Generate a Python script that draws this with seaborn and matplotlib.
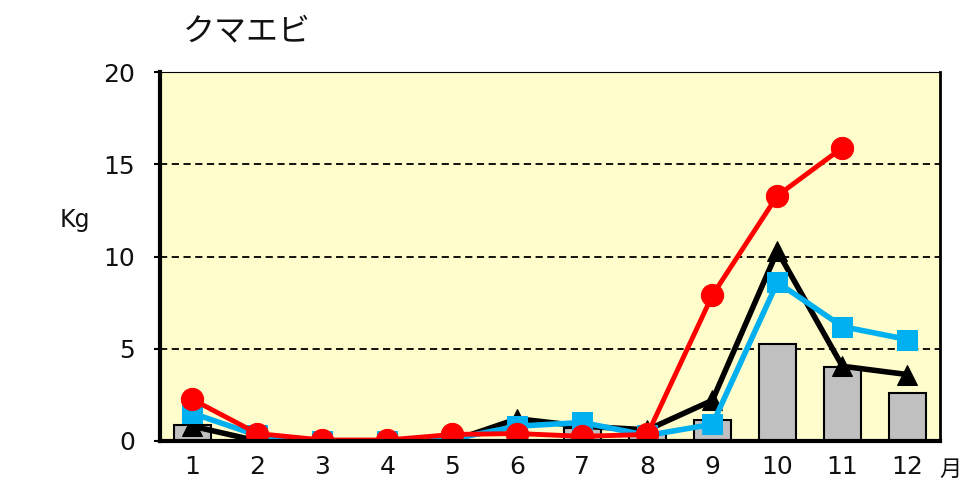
import numpy as np
import pandas as pd
import matplotlib
matplotlib.use("Agg")
import matplotlib.pyplot as plt
import seaborn as sns

months = ["1", "2", "3", "4", "5", "6", "7", "8", "9", "10", "11", "12"]
avg_bars = [0.85, 0.1, 0.0, 0.0, 0.0, 0.0, 0.7, 0.4, 1.15, 5.25, 4.0, 2.6]
black_tri = [0.8, 0.0, 0.0, 0.0, 0.0, 1.2, 0.8, 0.6, 2.2, 10.3, 4.05, 3.6]
blue_sq = [1.5, 0.3, 0.0, 0.0, 0.1, 0.8, 1.0, 0.3, 0.9, 8.6, 6.2, 5.5]
red_circ = [2.25, 0.4, 0.05, 0.05, 0.35, 0.4, 0.25, 0.35, 7.9, 13.3, 15.9, np.nan]

sns.set_theme(style="white")
plt.rcParams["font.family"] = ["Noto Sans CJK JP", "DejaVu Sans"]

df = pd.DataFrame({"month": months, "bars": avg_bars,
                   "black": black_tri, "blue": blue_sq, "red": red_circ})
df["pos"] = np.arange(len(months))

fig = plt.figure(figsize=(9.63, 4.84), dpi=100)
ax = fig.add_axes([0.166, 0.089, 0.81, 0.762])
ax.set_facecolor("#FEFDCB")

sns.barplot(data=df, x="month", y="bars", color="#C0C0C0", edgecolor="black",
            linewidth=1.5, width=0.58, saturation=1, ax=ax, zorder=2)

sns.lineplot(data=df, x="pos", y="black", color="black", lw=4, marker="^",
             markersize=15, markeredgecolor="black", ax=ax, zorder=3)
sns.lineplot(data=df, x="pos", y="blue", color="#00B0F0", lw=4, marker="s",
             markersize=14, markeredgecolor="#00B0F0", ax=ax, zorder=4)
sns.lineplot(data=df, x="pos", y="red", color="#FF0000", lw=3.5, marker="o",
             markersize=16, markeredgecolor="#FF0000", ax=ax, zorder=5)

for yv in [5, 10, 15, 20]:
    ax.axhline(yv, color="black", lw=1.3, ls=(0, (4, 2.5)), zorder=1)

ax.set_xlim(-0.5, 11.5)
ax.set_ylim(0, 20)
ax.set_yticks([0, 5, 10, 15, 20])
ax.set_xlabel("")
ax.set_ylabel("")
ax.tick_params(axis="x", length=0, labelsize=18, pad=10, labelcolor="#111111")
ax.tick_params(axis="y", length=4, width=1.5, direction="out", labelsize=18,
               pad=14, colors="black", labelcolor="#111111", left=True)
for lab in ax.get_xticklabels() + ax.get_yticklabels():
    lab.set_family("DejaVu Sans")

ax.spines["left"].set_linewidth(3)
ax.spines["bottom"].set_linewidth(3)
ax.spines["right"].set_linewidth(2)
ax.spines["top"].set_linewidth(0.8)
for s in ax.spines.values():
    s.set_color("black")
    s.set_zorder(6)

fig.text(0.19, 0.935, "クマエビ", fontsize=23, ha="left", va="center",
         color="#111111")
fig.text(0.078, 0.545, "Kg", fontsize=17, ha="center", va="center",
         family="DejaVu Sans", color="#111111")
fig.text(0.975, 0.03, "月", fontsize=16, ha="left", va="center",
         color="#111111")

fig.savefig("out.png", dpi=100)
